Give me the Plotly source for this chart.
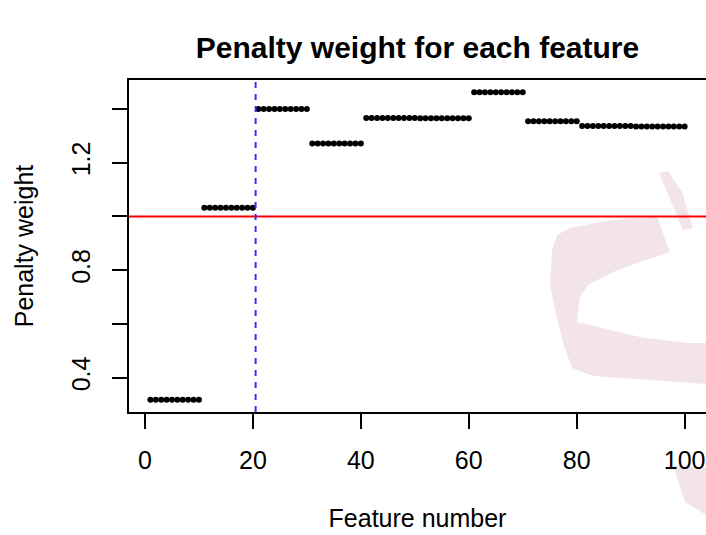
import plotly.graph_objects as go

# ---- data ----
group_values = [0.318, 1.032, 1.400, 1.271, 1.366, 1.365, 1.462, 1.354, 1.337, 1.335]
group_size = 10
reference_weight = 1.0
cutoff_feature = 20.5
x_ticks = [0, 20, 40, 60, 80, 100]
y_ticks = [0.4, 0.6, 0.8, 1.0, 1.2, 1.4]
y_tick_labels = ["0.4", "", "0.8", "", "1.2", ""]

features = list(range(1, len(group_values) * group_size + 1))
weights = [v for v in group_values for _ in range(group_size)]

# R-style 4% axis extension
xspan = max(features) - min(features)
yspan = max(weights) - min(weights)
xr = [min(features) - 0.04 * xspan, max(features) + 0.04 * xspan]
yr = [min(weights) - 0.04 * yspan, max(weights) + 0.04 * yspan]

W, H = 706, 535
L, R, T, B = 129, 0, 80, 123

FONT = "Liberation Sans, Arial, sans-serif"

fig = go.Figure()
fig.add_trace(go.Scatter(
    x=features, y=weights, mode="markers",
    marker=dict(color="black", size=6, line=dict(width=0)),
    showlegend=False, hoverinfo="skip",
))

# watermark (decorative, pixel geometry -> paper coords)
def px2paper(pts):
    pw = W - L - R
    ph = H - T - B
    return [((px - L) / pw, (H - B - py) / ph) for (px, py) in pts]

def path(pts):
    p = px2paper(pts)
    return "M " + " L ".join(f"{a:.4f},{b:.4f}" for a, b in p) + " Z"

wm_color = "rgb(243,228,233)"
wm_main = [(657, 217), (630, 218), (600, 222), (570, 228), (557, 235), (552, 250),
           (550, 283), (555, 310), (563, 343), (572, 368), (593, 376), (650, 380),
           (706, 384), (706, 343), (687, 343), (640, 337), (577, 322), (580, 297),
           (588, 285), (613, 272), (640, 262), (670, 252)]
wm_top = [(659, 173), (668, 171), (682, 192), (693, 228), (683, 230), (665, 187)]
wm_bot = [(673, 465), (706, 468), (706, 515), (685, 502)]
for pts in (wm_main, wm_top, wm_bot):
    fig.add_shape(type="path", path=path(pts), xref="paper", yref="paper",
                  fillcolor=wm_color, line=dict(width=0), layer="below")

fig.add_hline(y=reference_weight, line=dict(color="#ff0000", width=2))
fig.add_vline(x=cutoff_feature, line=dict(color="#3030ff", width=2, dash="6px,6px"))

fig.update_layout(
    width=W, height=H,
    margin=dict(l=L, r=R, t=T, b=B),
    paper_bgcolor="white", plot_bgcolor="rgba(0,0,0,0)",
    font=dict(family=FONT, size=25, color="black"),
    title=dict(text="<b>Penalty weight for each feature</b>", x=(L + (W - R)) / 2 / W,
               xanchor="center", xref="container", y=1 - 47 / H, yanchor="middle",
               yref="container", font=dict(size=30, family=FONT)),
    xaxis=dict(range=xr, tickvals=x_ticks, ticks="outside", ticklen=15, tickwidth=2,
               tickcolor="black", showline=True, linecolor="black", linewidth=2,
               mirror=True, showgrid=False, zeroline=False, ticklabelstandoff=10,
               tickfont=dict(size=25),
               title=dict(text="Feature number", standoff=36, font=dict(size=25))),
    yaxis=dict(range=yr, tickvals=y_ticks, ticktext=y_tick_labels, tickangle=-90,
               ticks="outside", ticklen=15, tickwidth=2, tickcolor="black",
               showline=True, linecolor="black", linewidth=2, mirror=False,
               showgrid=False, zeroline=False, ticklabelstandoff=12,
               tickfont=dict(size=25),
               title=dict(text="Penalty weight", standoff=26, font=dict(size=25))),
)

fig.write_html(
    "out.html",
    config={"displayModeBar": False},
    post_script="document.body.style.margin='0';document.body.style.overflow='hidden';",
)
